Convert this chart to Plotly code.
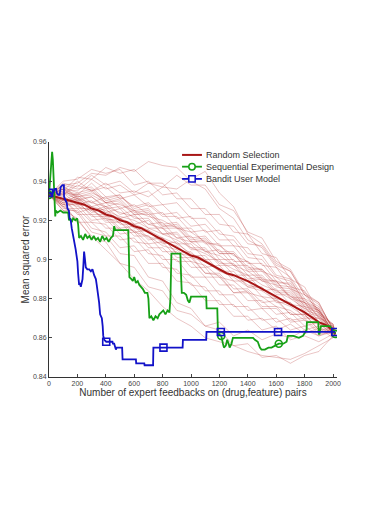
import plotly.graph_objects as go

# ---------------- data ----------------
run_x = [0, 100, 200, 300, 400, 500, 600, 700, 800, 900, 1000, 1100, 1200,
         1300, 1400, 1500, 1600, 1700, 1800, 1900, 2000, 2016]

random_runs = [
    [.933, .938, .939, .944, .943, .947, .945, .950, .948, .947, .940, .936, .926, .921, .910, .906, .896, .891, .880, .876, .865, .862],
    [.933, .933, .938, .935, .939, .934, .935, .932, .937, .936, .941, .945, .934, .927, .913, .908, .898, .894, .882, .877, .865, .862],
    [.933, .927, .924, .914, .912, .903, .902, .891, .889, .878, .875, .866, .864, .856, .857, .850, .851, .847, .851, .853, .861, .862],
    [.933, .925, .921, .911, .909, .898, .896, .886, .884, .874, .872, .866, .868, .861, .864, .859, .862, .860, .864, .861, .863, .862],
    [.933, .936, .935, .941, .936, .938, .933, .935, .928, .929, .921, .921, .913, .912, .903, .902, .892, .890, .878, .874, .863, .862],
    [.933, .930, .934, .929, .932, .926, .928, .923, .924, .916, .916, .908, .908, .899, .899, .890, .889, .880, .878, .868, .866, .862],
    [.933, .931, .923, .923, .916, .916, .909, .908, .900, .900, .891, .891, .882, .882, .874, .875, .868, .870, .864, .866, .861, .862],
    [.933, .936, .932, .934, .931, .933, .926, .928, .922, .922, .914, .915, .907, .907, .898, .898, .889, .887, .877, .874, .863, .862],
    [.933, .928, .930, .922, .922, .915, .915, .908, .909, .901, .901, .893, .892, .883, .883, .875, .875, .868, .869, .862, .863, .862],
    [.933, .940, .941, .946, .944, .946, .938, .940, .933, .934, .926, .926, .918, .917, .908, .907, .897, .894, .882, .878, .864, .862],
    [.933, .925, .925, .916, .914, .906, .907, .898, .898, .889, .888, .879, .879, .871, .871, .864, .866, .859, .861, .858, .862, .862],
    [.933, .934, .928, .930, .924, .926, .918, .920, .913, .914, .906, .906, .898, .898, .890, .891, .883, .883, .874, .872, .862, .862],
    [.933, .938, .936, .937, .930, .932, .927, .929, .923, .924, .917, .918, .910, .910, .901, .900, .891, .889, .879, .875, .863, .862],
    [.933, .928, .928, .920, .921, .913, .914, .906, .906, .899, .899, .891, .891, .883, .884, .876, .876, .869, .870, .863, .864, .862],
    [.933, .934, .933, .939, .932, .933, .925, .926, .918, .919, .911, .912, .904, .904, .896, .895, .887, .886, .876, .873, .862, .862],
    [.933, .927, .929, .923, .923, .916, .917, .910, .911, .903, .902, .893, .893, .885, .885, .878, .879, .872, .872, .864, .864, .862],
    [.933, .936, .930, .932, .927, .929, .923, .923, .916, .916, .909, .909, .900, .900, .892, .892, .884, .884, .875, .873, .862, .862],
    [.933, .929, .931, .924, .926, .918, .918, .911, .911, .903, .904, .896, .897, .889, .889, .881, .880, .872, .872, .864, .865, .862],
    [.933, .939, .937, .943, .938, .940, .934, .939, .937, .943, .938, .938, .928, .925, .914, .911, .899, .895, .883, .878, .864, .862],
    [.933, .926, .926, .919, .918, .910, .911, .903, .902, .893, .892, .884, .884, .876, .876, .869, .870, .864, .866, .861, .864, .862],
    [.933, .937, .934, .936, .929, .931, .924, .925, .917, .918, .910, .911, .903, .903, .894, .894, .886, .885, .876, .874, .863, .862],
    [.933, .928, .933, .927, .929, .923, .925, .918, .919, .911, .912, .904, .905, .897, .897, .889, .889, .881, .880, .870, .867, .862],
    [.933, .933, .926, .926, .919, .919, .912, .912, .904, .904, .896, .896, .887, .887, .879, .879, .872, .873, .866, .868, .861, .862],
    [.933, .938, .931, .932, .926, .927, .921, .921, .913, .913, .905, .905, .897, .897, .889, .890, .882, .882, .873, .871, .862, .862],
    [.933, .935, .942, .941, .947, .944, .946, .939, .939, .931, .931, .923, .923, .914, .913, .903, .901, .890, .886, .873, .867, .862],
    [.933, .929, .919, .919, .912, .912, .904, .905, .896, .895, .887, .886, .877, .877, .869, .870, .864, .867, .862, .865, .860, .862],
    [.933, .930, .932, .925, .927, .921, .923, .916, .916, .908, .908, .900, .900, .892, .892, .884, .885, .877, .876, .867, .865, .862],
    [.933, .936, .933, .935, .929, .930, .923, .924, .917, .917, .909, .910, .903, .903, .895, .895, .888, .888, .878, .875, .863, .862],
    [.933, .931, .924, .926, .920, .921, .914, .915, .908, .909, .902, .902, .894, .894, .886, .886, .878, .878, .870, .870, .861, .862],
    [.933, .933, .940, .935, .937, .931, .933, .927, .928, .921, .922, .914, .915, .907, .906, .897, .896, .886, .884, .872, .867, .862],
    [.933, .931, .930, .926, .924, .921, .918, .915, .911, .908, .903, .900, .895, .892, .887, .885, .880, .878, .872, .870, .863, .862],
    [.933, .932, .928, .927, .922, .921, .916, .914, .909, .907, .901, .899, .894, .891, .886, .884, .879, .876, .871, .868, .863, .862],
    [.933, .934, .931, .929, .927, .924, .922, .918, .916, .911, .909, .904, .902, .897, .894, .889, .887, .881, .878, .871, .865, .862],
    [.933, .930, .927, .925, .921, .919, .914, .912, .907, .905, .899, .897, .891, .889, .883, .881, .876, .874, .869, .867, .862, .862],
    [.933, .935, .932, .933, .929, .928, .925, .922, .920, .916, .914, .909, .907, .902, .899, .894, .891, .885, .882, .874, .866, .862],
    [.933, .929, .931, .927, .925, .922, .920, .916, .913, .910, .906, .903, .899, .895, .892, .887, .884, .880, .875, .871, .864, .862],
    [.933, .927, .920, .912, .905, .898, .890, .884, .876, .870, .866, .860, .858, .856, .853, .851, .850, .849, .852, .856, .860, .862],
]

mean_x = [0, 50, 100, 150, 200, 250, 300, 350, 400, 450, 500, 550, 600, 650, 700,
          750, 800, 850, 900, 950, 1000, 1050, 1100, 1150, 1200, 1250, 1300, 1350,
          1400, 1450, 1500, 1550, 1600, 1650, 1700, 1750, 1800, 1850, 1900, 1950,
          2000, 2016]
mean_y = [.933, .932, .931, .930, .929, .928, .926, .925, .923, .922, .920, .919,
          .917, .916, .914, .912, .910, .908, .906, .904, .902, .901, .899, .897,
          .895, .893, .892, .8905, .889, .887, .885, .883, .881, .879, .877, .875,
          .873, .8705, .868, .8665, .864, .862]

seq_x = [0, 8, 15, 22, 27, 32, 38, 44, 48, 60, 80, 100, 120, 135, 141, 150, 160,
         170, 185, 198, 205, 212, 225, 240, 255, 270, 285, 300, 315, 330, 345,
         360, 375, 390, 405, 420, 435, 450, 459, 466, 475, 500, 530, 558, 562,
         566, 580, 590, 600, 612, 625, 636, 648, 660, 675, 693, 700, 707, 720,
         735, 750, 765, 777, 790, 805, 820, 835, 848, 855, 862, 875, 900, 925,
         931, 935, 950, 966, 978, 989, 1000, 1025, 1060, 1107, 1110, 1150, 1185,
         1190, 1213, 1225, 1232, 1245, 1255, 1265, 1272, 1285, 1295, 1350, 1400,
         1437, 1450, 1470, 1485, 1496, 1520, 1545, 1567, 1590, 1618, 1650, 1673,
         1682, 1720, 1760, 1788, 1814, 1816, 1850, 1896, 1900, 1905, 1915, 1950,
         1978, 2000, 2016]
seq_y = [.933, .940, .950, .955, .951, .944, .930, .922, .925, .924, .925, .924,
         .924, .924, .920, .921, .919, .921, .920, .921, .918, .911, .912, .910,
         .913, .911, .912, .910, .912, .910, .911, .909, .912, .910, .911, .909,
         .911, .912, .917, .915, .915, .915, .915, .915, .905, .891, .890, .889,
         .891, .888, .889, .887, .886, .885, .883, .883, .880, .870, .871, .869,
         .871, .870, .872, .873, .874, .872, .874, .873, .880, .903, .903, .903,
         .903, .890, .883, .883, .882, .879, .878, .881, .881, .881, .881, .875,
         .875, .875, .862, .861, .857, .855, .856, .859, .857, .855, .857, .860,
         .860, .860, .860, .859, .858, .855, .854, .854, .855, .855, .856, .857,
         .857, .858, .861, .861, .860, .861, .864, .868, .868, .868, .862, .862,
         .866, .866, .866, .864, .862]
seq_mark_x = [0, 1213, 1618, 2016]
seq_mark_y = [.933, .861, .857, .862]

bandit_x = [0, 10, 20, 30, 40, 50, 55, 65, 75, 82, 95, 105, 106, 118, 125, 130,
            140, 145, 153, 160, 165, 172, 177, 183, 188, 194, 200, 205, 212, 218,
            224, 230, 236, 242, 247, 252, 259, 270, 283, 295, 306, 318, 330, 336,
            342, 348, 353, 360, 365, 372, 378, 382, 389, 403, 447, 450, 459, 465,
            471, 476, 500, 515, 518, 560, 612, 614, 640, 671, 673, 700, 733, 735,
            806, 870, 941, 943, 1000, 1107, 1109, 1210, 1613, 2016]
bandit_y = [.934, .934, .933, .935, .936, .936, .934, .933, .933, .937, .938,
            .938, .932, .930, .929, .926, .925, .921, .920, .916, .914, .912,
            .911, .908, .905, .902, .899, .893, .887, .888, .886, .888, .890,
            .897, .904, .901, .896, .895, .895, .894, .895, .892, .890, .887,
            .884, .880, .878, .872, .871, .870, .866, .861, .859, .858, .858,
            .857, .857, .855, .854, .855, .855, .855, .849, .849, .849, .847,
            .847, .847, .846, .846, .846, .855, .855, .855, .855, .859, .859,
            .859, .863, .863, .863, .863]
bandit_mark_x = [0, 403, 806, 1210, 1613, 2016]
bandit_mark_y = [.934, .858, .855, .863, .863, .863]

x_ticks = [0, 200, 400, 600, 800, 1000, 1200, 1400, 1600, 1800, 2000]
y_ticks = [0.84, 0.86, 0.88, 0.90, 0.92, 0.94, 0.96]
y_tick_text = ["0.84", "0.86", "0.88", "0.9", "0.92", "0.94", "0.96"]

series_names = ["Random Selection", "Sequential Experimental Design", "Bandit User Model"]

# ---------------- styles ----------------
RED = "#a81616"
FAINT = "rgba(178,40,40,0.30)"
GREEN = "#16a016"
BLUE = "#1212c8"
FONT = "Liberation Sans, Arial, sans-serif"

fig = go.Figure()

for run in random_runs:
    fig.add_trace(go.Scatter(x=run_x, y=run, mode="lines",
                             line=dict(color=FAINT, width=0.9),
                             showlegend=False, hoverinfo="skip"))

fig.add_trace(go.Scatter(x=mean_x, y=mean_y, mode="lines", name=series_names[0],
                         line=dict(color=RED, width=2), showlegend=False))

fig.add_trace(go.Scatter(x=seq_x, y=seq_y, mode="lines", name=series_names[1],
                         line=dict(color=GREEN, width=1.8), showlegend=False))
fig.add_trace(go.Scatter(x=seq_mark_x, y=seq_mark_y, mode="markers",
                         marker=dict(symbol="circle-open", size=7,
                                     color=GREEN, line=dict(width=1.6)),
                         showlegend=False))

fig.add_trace(go.Scatter(x=bandit_x, y=bandit_y, mode="lines", name=series_names[2],
                         line=dict(color=BLUE, width=1.8), showlegend=False))
fig.add_trace(go.Scatter(x=bandit_mark_x, y=bandit_mark_y, mode="markers",
                         marker=dict(symbol="square-open", size=7,
                                     color=BLUE, line=dict(width=1.6)),
                         showlegend=False))

# ---------------- compact legend (paper coordinates) ----------------
PW, PH = 288.0, 235.0          # plot-area size in px
leg_x0, leg_x1, leg_xt = 0.462, 0.531, 0.538
leg_rows = [0.945, 0.895, 0.843]
leg_colors = [RED, GREEN, BLUE]
leg_widths = [2, 1.8, 1.8]
leg_marks = [None, "circle", "rect"]
xm = (leg_x0 + leg_x1) / 2
rx, ry = 3.2 / PW, 3.2 / PH
shapes, annotations = [], []
for name, yy, col, lw, mk in zip(series_names, leg_rows, leg_colors, leg_widths, leg_marks):
    shapes.append(dict(type="line", xref="paper", yref="paper", x0=leg_x0, x1=leg_x1,
                       y0=yy, y1=yy, line=dict(color=col, width=lw)))
    if mk:
        shapes.append(dict(type=mk, xref="paper", yref="paper",
                           x0=xm - rx, x1=xm + rx, y0=yy - ry, y1=yy + ry,
                           line=dict(color=col, width=1.5), fillcolor="white"))
    annotations.append(dict(text=name, xref="paper", yref="paper", x=leg_xt, y=yy,
                            xanchor="left", yanchor="middle", showarrow=False,
                            font=dict(size=9, color="#333333")))

fig.update_layout(
    width=358, height=513,
    margin=dict(l=41, r=29, t=134, b=144),
    paper_bgcolor="white", plot_bgcolor="white",
    font=dict(family=FONT, color="#333333"),
    showlegend=False,
    shapes=shapes, annotations=annotations,
    xaxis=dict(range=[0, 2028], tickvals=x_ticks, ticks="inside", ticklen=3,
               showline=True, linecolor="#333333", linewidth=1, showgrid=False,
               zeroline=False, tickfont=dict(size=7, color="#444444"),
               title=dict(text="Number of expert feedbacks on (drug,feature) pairs",
                          font=dict(size=10, color="#333333"), standoff=1)),
    yaxis=dict(range=[0.84, 0.96], tickvals=y_ticks, ticktext=y_tick_text,
               ticks="inside", ticklen=3, showline=True, linecolor="#333333",
               linewidth=1, showgrid=False, zeroline=False,
               tickfont=dict(size=7, color="#444444"),
               title=dict(text="Mean squared error",
                          font=dict(size=10, color="#333333"), standoff=1)),
)

fig.write_html("out.html")
